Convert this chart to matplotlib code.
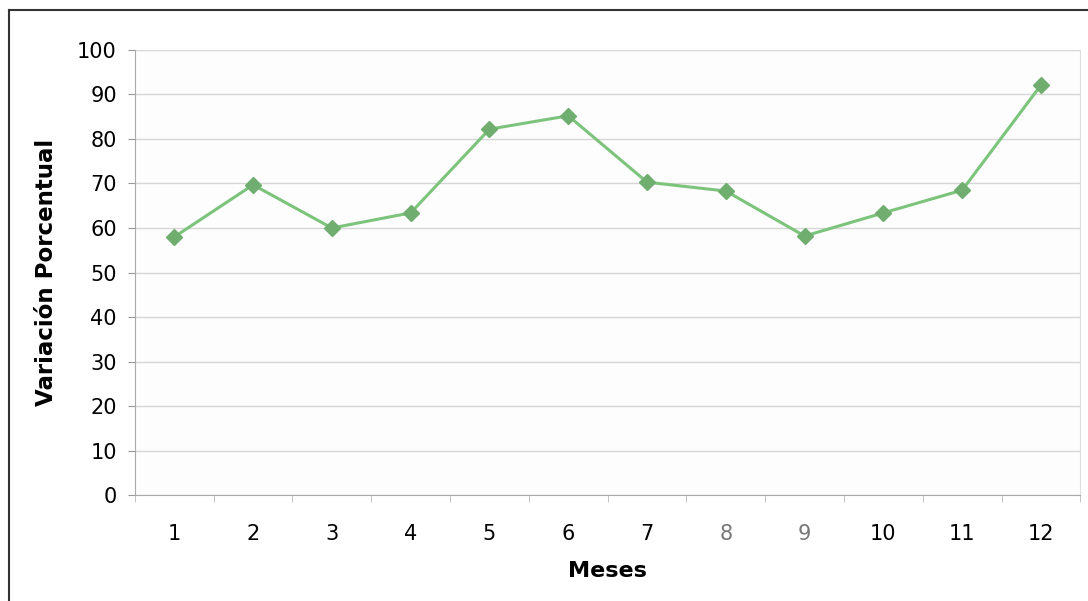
import numpy as np
import matplotlib.pyplot as plt

meses = [1, 2, 3, 4, 5, 6, 7, 8, 9, 10, 11, 12]
variacion = [58.0, 69.7, 60.0, 63.4, 82.2, 85.2, 70.3, 68.3, 58.2, 63.4, 68.5, 92.1]
y_ticks = [0, 10, 20, 30, 40, 50, 60, 70, 80, 90, 100]

plt.rcParams['font.family'] = ['DejaVu Sans']

fig = plt.figure(figsize=(10.88, 6.01), dpi=100)
ax = fig.add_axes([0.124, 0.176, 0.869, 0.741])

# marco exterior del gráfico (escaneado)
fig.add_artist(plt.Line2D([0.008, 0.008], [0.0, 0.983], color='#333333', lw=1.5))
fig.add_artist(plt.Line2D([0.008, 1.0], [0.983, 0.983], color='#333333', lw=1.5))

ax.plot(meses, variacion, color='#7cc47c', lw=2.2, marker='D', markersize=8,
        markerfacecolor='#6fae6f', markeredgecolor='#6fae6f', zorder=3)

ax.set_xlim(0.5, 12.5)
ax.set_ylim(0, 100)
ax.set_yticks(y_ticks)
ax.set_xticks(meses)
ax.set_xticks(np.arange(0.5, 13, 1), minor=True)
ax.tick_params(axis='x', which='major', length=0, pad=21, labelsize=15)
ax.tick_params(axis='x', which='minor', length=5, color='#bbbbbb')
ax.tick_params(axis='y', length=5, color='#999999', labelsize=15, pad=8)
for lbl in ax.get_xticklabels():
    if lbl.get_text() in ('8', '9'):
        lbl.set_color('#777777')

ax.grid(axis='y', color='#d6d6d6', lw=1)
ax.set_axisbelow(True)
ax.set_facecolor('#fdfdfd')
ax.spines['top'].set_visible(False)
ax.spines['right'].set_color('#dddddd')
ax.spines['left'].set_color('#aaaaaa')
ax.spines['bottom'].set_color('#aaaaaa')

ax.set_xlabel('Meses', fontsize=16, fontweight='bold', labelpad=12)
ax.set_ylabel('Variación Porcentual', fontsize=16.5, fontweight='bold', labelpad=14)

plt.savefig('out.png', dpi=100)
